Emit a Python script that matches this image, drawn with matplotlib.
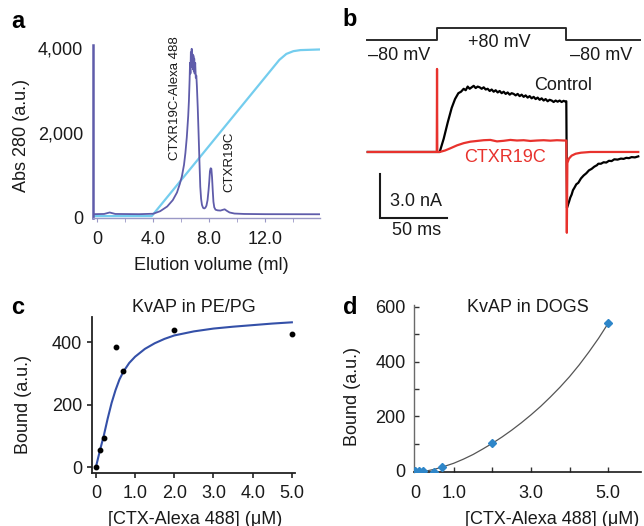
import matplotlib
matplotlib.use('Agg')
import matplotlib.pyplot as plt

plt.rcParams['font.family'] = ['Liberation Sans', 'DejaVu Sans']
plt.rcParams['font.size'] = 13

# --- panel a: elution profile ---
elution_ml = [-0.3, 0.5, 0.9, 1.3, 3.0, 4.0, 4.5, 5.0, 5.4, 5.7, 5.9, 6.05, 6.2, 6.3, 6.4,
              6.5, 6.55, 6.6, 6.63, 6.66, 6.69, 6.72, 6.75, 6.78, 6.81, 6.84, 6.87, 6.9,
              6.93, 6.96, 7.0, 7.04, 7.08, 7.12, 7.18, 7.24, 7.3, 7.36, 7.42, 7.48, 7.56,
              7.64, 7.72, 7.8, 7.88, 7.95, 8.0, 8.05, 8.1, 8.15, 8.2, 8.25, 8.3, 8.36,
              8.45, 8.6, 8.8, 8.95, 9.1, 9.25, 9.45, 9.8, 10.5, 12.0, 15.9]
abs280 = [90, 95, 130, 95, 90, 100, 160, 270, 420, 600, 800, 980, 1250, 1530, 1900,
          2400, 2750, 3250, 3650, 3400, 3900, 3550, 3980, 3600, 3850, 3500, 3820, 3450,
          3750, 3400, 3650, 3300, 3350, 3100, 2600, 1990, 1350, 740, 450, 310, 240,
          225, 240, 290, 420, 650, 850, 1100, 1170, 1160, 960, 650, 380, 250,
          195, 180, 175, 190, 205, 170, 130, 105, 95, 90, 88]
gradient_ml = [-0.3, 3.9, 13.0, 13.5, 14.0, 14.5, 15.9]
gradient_val = [45, 45, 3720, 3860, 3925, 3950, 3965]

# --- panel b: currents (ms, nA) ---
volt_t = [-52.5, 0, 0, 97, 97, 152]
volt_mv = [-80, -80, 80, 80, -80, -80]
ctrl_t = [-52, 0, 2, 5, 8, 11, 13.5, 16, 18, 20, 21.5, 23, 24.5, 26, 27.5, 29, 30.5,
          32, 33.5, 35, 36.5, 38, 39.5, 41, 42.5, 44, 45.5, 47, 48.5, 50, 51.5, 53,
          54.5, 56, 57.5, 59, 60.5, 62, 63.5, 65, 66.5, 68, 69.5, 71, 72.5, 74, 75.5,
          77, 78.5, 80, 81.5, 83, 84.5, 86, 87.5, 89, 90.5, 92, 93.5, 95, 96.5, 97,
          97.5, 99, 100, 101, 102, 103, 104.5, 106, 108, 110, 112, 114, 116, 118,
          120, 121, 123, 125, 127, 129, 131, 133, 135.5, 138, 140, 142, 144, 146,
          148.5, 151]
ctrl_na = [0, 0, 0, 0.9, 2.0, 3.0, 3.6, 4.0, 4.1, 4.3, 4.2, 4.45, 4.3, 4.4, 4.5, 4.35,
           4.45, 4.4, 4.3, 4.4, 4.25, 4.3, 4.15, 4.25, 4.1, 4.2, 4.05, 4.15, 4.0, 4.1,
           3.95, 4.05, 3.9, 4.0, 3.95, 3.85, 3.95, 3.8, 3.9, 3.75, 3.85, 3.7, 3.8, 3.65,
           3.75, 3.6, 3.7, 3.55, 3.65, 3.5, 3.6, 3.45, 3.55, 3.5, 3.4, 3.5, 3.42, 3.5,
           3.4, 3.48, 3.42, 3.45,
           -3.8, -3.4, -3.1, -2.9, -2.6, -2.45, -2.2, -2.1, -1.8, -1.6, -1.45, -1.25,
           -1.15, -1.0, -0.9, -0.8, -0.8, -0.7, -0.72, -0.6, -0.62, -0.5, -0.52, -0.45,
           -0.47, -0.4, -0.42, -0.35, -0.37, -0.3]
ctx_t = [-52, -0.2, 0, 0.2, 2, 6, 10, 15, 20, 25, 30, 35, 40, 45, 50, 55, 60, 65, 70,
         75, 80, 85, 90, 95, 97, 97.4, 97.8, 99, 101, 104, 108, 115, 151]
ctx_na = [0, 0, 5.65, 0, 0, 0.1, 0.25, 0.45, 0.6, 0.7, 0.75, 0.8, 0.82, 0.72, 0.76,
          0.82, 0.78, 0.8, 0.75, 0.78, 0.8, 0.77, 0.8, 0.78, 0.78, -5.5, -0.75, -0.45,
          -0.25, -0.12, -0.05, 0, 0]
scale_na = 3.0
scale_ms = 50

# --- panel c ---
c_conc = [0, 0.1, 0.2, 0.5, 0.7, 2.0, 5.0]
c_bound = [0, 55, 92, 383, 307, 440, 425]
c_fit_x = [0, 0.1, 0.2, 0.3, 0.4, 0.5, 0.6, 0.7, 0.85, 1.0, 1.25, 1.5, 1.75, 2.0,
           2.5, 3.0, 3.5, 4.0, 4.5, 5.0]
c_fit_y = [0, 52, 100, 155, 205, 246, 280, 305, 333, 353, 378, 396, 410, 421,
           434, 443, 449, 454, 459, 463]

# --- panel d ---
d_conc = [0, 0.1, 0.2, 0.5, 0.7, 2.0, 5.0]
d_bound = [0, 0, 0, -3, 15, 101, 540]
d_err = [4, 4, 4, 5, 6, 12, 12]
d_fit_x = [0.3, 0.5, 0.7, 1.0, 1.25, 1.5, 1.75, 2.0, 2.25, 2.5, 2.75, 3.0, 3.25, 3.5,
           3.75, 4.0, 4.25, 4.5, 4.75, 5.0]
d_fit_y = [0, 6, 14, 28, 43, 60, 80, 101, 124, 149, 176, 205, 236, 270,
           306, 345, 388, 435, 485, 540]

PURPLE = '#5f5caa'
CYAN = '#74cdee'
RED = '#e8322d'
BLUE_FIT = '#3450a8'
BLUE_PT = '#2e86c9'
TXT = '#1a1a1a'

W, H = 644, 526


def box(l, t, r, b):
    return [l / W, 1 - b / H, (r - l) / W, (b - t) / H]


def ftext(px, py, s, **kw):
    fig.text(px / W, 1 - py / H, s, ha=kw.pop('ha', 'center'), va=kw.pop('va', 'center'), **kw)


fig = plt.figure(figsize=(W / 100, H / 100), dpi=100)

# ========== a ==========
ax = fig.add_axes(box(93, 45, 320, 218))
ax.plot(gradient_ml, gradient_val, color=CYAN, lw=1.6)
ax.plot(elution_ml, abs280, color=PURPLE, lw=1.3)
ax.set_xlim(-0.29, 15.9)
ax.set_ylim(0, 4070)
for s in ['top', 'right']:
    ax.spines[s].set_visible(False)
ax.spines['left'].set_color(PURPLE)
ax.spines['left'].set_linewidth(1.8)
ax.spines['bottom'].set_color('#9a98c6')
ax.spines['bottom'].set_linewidth(1.0)
ax.set_xticks([0, 4, 8, 12])
ax.set_xticklabels(['0', '4.0', '8.0', '12.0'])
ax.set_xticks([2, 6, 10, 14], minor=True)
ax.set_yticks([0, 2000, 4000])
ax.set_yticklabels(['0', '2,000', '4,000'])
ax.tick_params(axis='y', length=0, pad=7, labelcolor=TXT)
ax.tick_params(axis='x', which='both', direction='out', length=3, color='#9a98c6',
               pad=6, labelcolor=TXT)
ax.set_xlabel('Elution volume (ml)', va='center', color=TXT)
ax.xaxis.set_label_coords((211.5 - 93) / 227, (218 - 265) / 173)
ax.set_ylabel('Abs 280 (a.u.)', va='center', color=TXT)
ax.yaxis.set_label_coords((22 - 93) / 227, (218 - 136) / 173)
ftext(175, 98.5, 'CTXR19C-Alexa 488', rotation=90, fontsize=9.5, color=TXT)
ftext(229, 162, 'CTXR19C', rotation=90, fontsize=9.5, color=TXT)

# ========== b ==========
ax_v = fig.add_axes(box(360, 20, 644, 50))
ax_v.plot(volt_t, volt_mv, color='#2b2b2b', lw=1.4)
ax_v.set_xlim(-57.8, 155.3)
ax_v.set_ylim(-213.3, 186.7)
ax_v.axis('off')

ax_b = fig.add_axes(box(360, 20, 644, 240))
ax_b.plot(ctrl_t, ctrl_na, color='black', lw=1.6)
ax_b.plot(ctx_t, ctx_na, color=RED, lw=1.6)
# scale bars
bar_t0, bar_i0 = -42.8, -4.5
ax_b.plot([bar_t0, bar_t0, bar_t0 + scale_ms], [bar_i0 + scale_na, bar_i0, bar_i0],
          color='#1a1a1a', lw=1.5, solid_joinstyle='miter')
ax_b.set_xlim(-57.8, 155.3)
ax_b.set_ylim(-5.99, 8.98)
ax_b.axis('off')

ftext(399, 55, '\u201380 mV', color=TXT)
ftext(499.5, 42.5, '+80 mV', color=TXT)
ftext(601, 55, '\u201380 mV', color=TXT)
ftext(563.5, 86, 'Control', color=TXT)
ftext(505, 157.5, 'CTXR19C', color=RED)
ftext(416.5, 201.5, '3.0 nA', color=TXT)
ftext(417, 230, '50 ms', color=TXT)

# ========== c ==========
ax = fig.add_axes(box(92, 317, 295, 473))
ax.plot(c_fit_x, c_fit_y, color=BLUE_FIT, lw=1.5)
ax.plot(c_conc, c_bound, 'o', color='black', ms=3.2)
ax.set_xlim(-0.1, 5.08)
ax.set_ylim(-19, 480)
for s in ['top', 'right']:
    ax.spines[s].set_visible(False)
for s in ['left', 'bottom']:
    ax.spines[s].set_color('#222222')
    ax.spines[s].set_linewidth(1.3)
ax.set_xticks([0, 1, 2, 3, 4, 5])
ax.set_xticklabels(['0', '1.0', '2.0', '3.0', '4.0', '5.0'])
ax.set_yticks([0, 200, 400])
ax.tick_params(direction='out', length=3.5, width=1.2, color='#222222', labelcolor=TXT)
ax.tick_params(axis='y', pad=3.5)
ax.tick_params(axis='x', pad=5)
ax.set_title('KvAP in PE/PG', fontsize=13, color=TXT, pad=0, y=(473 - 308) / 156, va='center')
ax.set_xlabel('[CTX-Alexa 488] (\u03bcM)', va='center', color=TXT)
ax.xaxis.set_label_coords((195.5 - 92) / 203, (473 - 519) / 156)
ax.set_ylabel('Bound (a.u.)', va='center', color=TXT)
ax.yaxis.set_label_coords((24 - 92) / 203, (473 - 404) / 156)

# ========== d ==========
ax = fig.add_axes(box(414, 305, 641, 472))
ax.plot(d_fit_x, d_fit_y, color='#555555', lw=0.9)
ax.errorbar(d_conc, d_bound, yerr=d_err, fmt='D', color=BLUE_PT, ms=4.5,
            elinewidth=1.2, capsize=0, zorder=3)
ax.set_xlim(-0.03, 5.85)
ax.set_ylim(-4, 607)
for s in ['top', 'right']:
    ax.spines[s].set_visible(False)
ax.spines['left'].set_color('#6a6a6a')
ax.spines['left'].set_linewidth(1.0)
ax.spines['bottom'].set_color('#1a1a1a')
ax.spines['bottom'].set_linewidth(1.2)
ax.set_xticks([0, 1, 2, 3, 4, 5])
ax.set_xticklabels(['0', '1.0', '', '3.0', '', '5.0'])
ax.set_yticks([0, 100, 200, 300, 400, 500, 600])
ax.set_yticklabels(['0', '', '200', '', '400', '', '600'])
ax.tick_params(direction='in', length=3.5, width=1.0, color='#333333', labelcolor=TXT)
ax.tick_params(axis='y', pad=6)
ax.tick_params(axis='x', pad=9)
ax.set_title('KvAP in DOGS', fontsize=13, color=TXT, pad=0, y=(472 - 307) / 167, va='center')
ax.set_xlabel('[CTX-Alexa 488] (\u03bcM)', va='center', color=TXT)
ax.xaxis.set_label_coords((552.5 - 414) / 227, (472 - 519) / 167)
ax.set_ylabel('Bound (a.u.)', va='center', color=TXT)
ax.yaxis.set_label_coords((352 - 414) / 227, (472 - 397) / 167)

# panel letters
for px, py, s in [(18, 22, 'a'), (350, 20, 'b'), (18, 308, 'c'), (350, 307, 'd')]:
    ftext(px, py, s, fontsize=17, fontweight='bold', color='black')

fig.savefig('out.png', dpi=100)
